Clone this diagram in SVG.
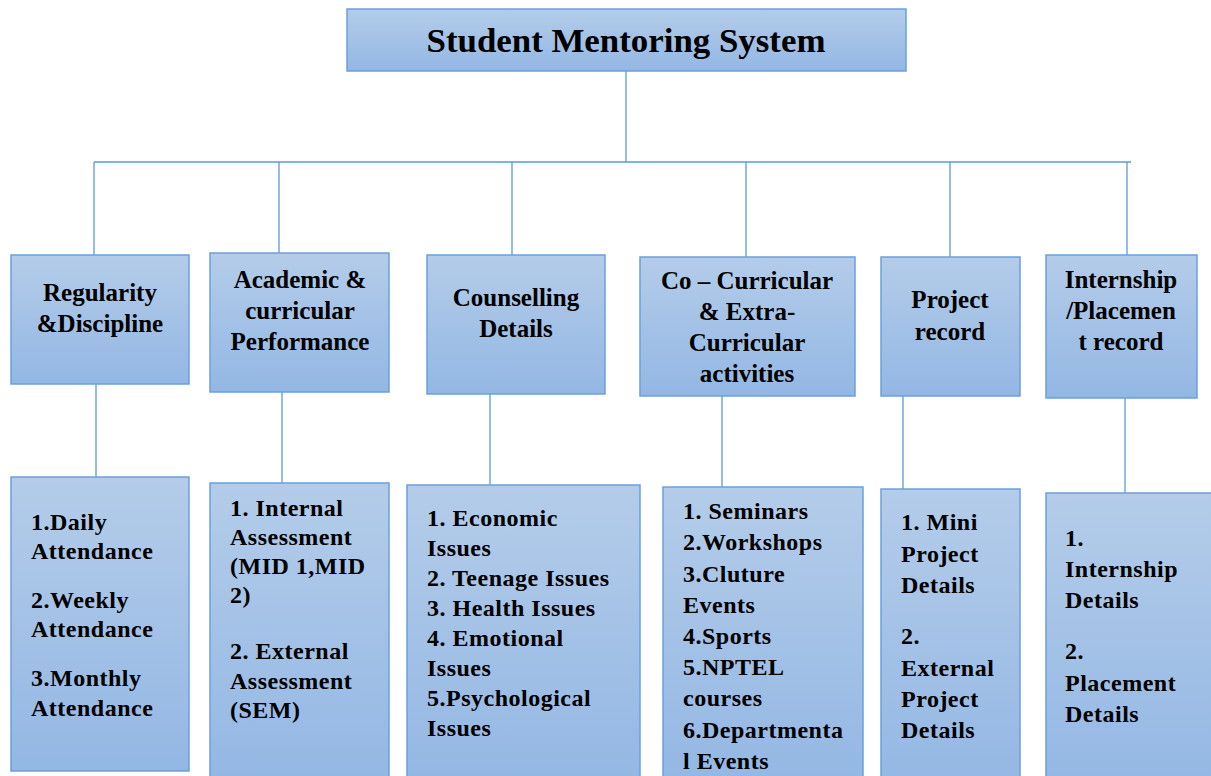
<svg xmlns="http://www.w3.org/2000/svg" width="1211" height="776" viewBox="0 0 1211 776">
<defs>
<linearGradient id="g" x1="0" y1="0" x2="0" y2="1">
<stop offset="0" stop-color="#b4cce9"/>
<stop offset="1" stop-color="#93b7e4"/>
</linearGradient>
<style>
.box{fill:url(#g);stroke:#6aa0db;stroke-width:1.5}
.ln{stroke:#5b9bd5;stroke-width:1.3;fill:none}
.t{font-size:33px;text-anchor:middle}
.h{font-size:25px;text-anchor:middle}
.b{font-size:24px;letter-spacing:0.5px}
</style>
</defs>
<rect width="1211" height="776" fill="#fff"/>
<g id="connectors">
<path class="ln" d="M626 71V162M94 162H1131M94 162V270M279 162V253M512 162V255M746 162V257M950 162V272M1127 162V270"/>
<path class="ln" d="M96 384V477M282 392V483M490 394V485M722 396V487M903 390V492M1125 398V493"/>
</g>
<g font-family="'Liberation Serif', 'Times New Roman', Times, serif" font-weight="bold" fill="#000">
<g id="title">
<rect class="box" x="347" y="9" width="559" height="62"/>
<text class="t" x="626" y="52" textLength="399" lengthAdjust="spacingAndGlyphs">Student Mentoring System</text>
</g>
<g id="regularity">
<rect class="box" x="11" y="255" width="178" height="129"/>
<text class="h" x="100" y="301">Regularity</text>
<text class="h" x="100" y="332">&amp;Discipline</text>
</g>
<g id="academic">
<rect class="box" x="210" y="253" width="179" height="139"/>
<text class="h" x="300" y="288">Academic &amp;</text>
<text class="h" x="300" y="319">curricular</text>
<text class="h" x="300" y="350">Performance</text>
</g>
<g id="counselling">
<rect class="box" x="427" y="255" width="178" height="139"/>
<text class="h" x="516" y="306">Counselling</text>
<text class="h" x="516" y="337">Details</text>
</g>
<g id="cocurricular">
<rect class="box" x="640" y="257" width="215" height="139"/>
<text class="h" x="747" y="289">Co – Curricular</text>
<text class="h" x="747" y="320">&amp; Extra-</text>
<text class="h" x="747" y="351">Curricular</text>
<text class="h" x="747" y="382">activities</text>
</g>
<g id="project">
<rect class="box" x="881" y="257" width="139" height="139"/>
<text class="h" x="950" y="308">Project</text>
<text class="h" x="950" y="340">record</text>
</g>
<g id="internship">
<rect class="box" x="1046" y="255" width="151" height="143"/>
<text class="h" x="1121" y="288">Internship</text>
<text class="h" x="1121" y="319">/Placemen</text>
<text class="h" x="1121" y="350">t record</text>
</g>
<g id="attendance">
<rect class="box" x="11" y="477" width="178" height="294"/>
<text class="b"><tspan x="31" y="530">1.Daily</tspan><tspan x="31" y="559">Attendance</tspan><tspan x="31" y="608">2.Weekly</tspan><tspan x="31" y="637">Attendance</tspan><tspan x="31" y="686">3.Monthly</tspan><tspan x="31" y="716">Attendance</tspan></text>
</g>
<g id="assessment">
<rect class="box" x="210" y="483" width="179" height="300"/>
<text class="b"><tspan x="230" y="516">1. Internal</tspan><tspan x="230" y="545">Assessment</tspan><tspan x="230" y="574">(MID 1,MID</tspan><tspan x="230" y="603">2)</tspan><tspan x="230" y="659">2. External</tspan><tspan x="230" y="689">Assessment</tspan><tspan x="230" y="718">(SEM)</tspan></text>
</g>
<g id="issues">
<rect class="box" x="407" y="485" width="233" height="300"/>
<text class="b"><tspan x="427" y="526">1. Economic</tspan><tspan x="427" y="556">Issues</tspan><tspan x="427" y="586">2. Teenage Issues</tspan><tspan x="427" y="616">3. Health Issues</tspan><tspan x="427" y="646">4. Emotional</tspan><tspan x="427" y="676">Issues</tspan><tspan x="427" y="706">5.Psychological</tspan><tspan x="427" y="736">Issues</tspan></text>
</g>
<g id="activities">
<rect class="box" x="663" y="487" width="200" height="300"/>
<text class="b"><tspan x="683" y="519">1. Seminars</tspan><tspan x="683" y="550">2.Workshops</tspan><tspan x="683" y="582">3.Cluture</tspan><tspan x="683" y="613">Events</tspan><tspan x="683" y="644">4.Sports</tspan><tspan x="683" y="675">5.NPTEL</tspan><tspan x="683" y="706">courses</tspan><tspan x="683" y="738">6.Departmenta</tspan><tspan x="683" y="769">l Events</tspan></text>
</g>
<g id="projects">
<rect class="box" x="881" y="489" width="139" height="300"/>
<text class="b"><tspan x="901" y="530">1. Mini</tspan><tspan x="901" y="562">Project</tspan><tspan x="901" y="593">Details</tspan><tspan x="901" y="644">2.</tspan><tspan x="901" y="676">External</tspan><tspan x="901" y="707">Project</tspan><tspan x="901" y="738">Details</tspan></text>
</g>
<g id="placement">
<rect class="box" x="1046" y="493" width="170" height="300"/>
<text class="b"><tspan x="1065" y="546">1.</tspan><tspan x="1065" y="577">Internship</tspan><tspan x="1065" y="608">Details</tspan><tspan x="1065" y="659">2.</tspan><tspan x="1065" y="691">Placement</tspan><tspan x="1065" y="722">Details</tspan></text>
</g>
</g>
</svg>
